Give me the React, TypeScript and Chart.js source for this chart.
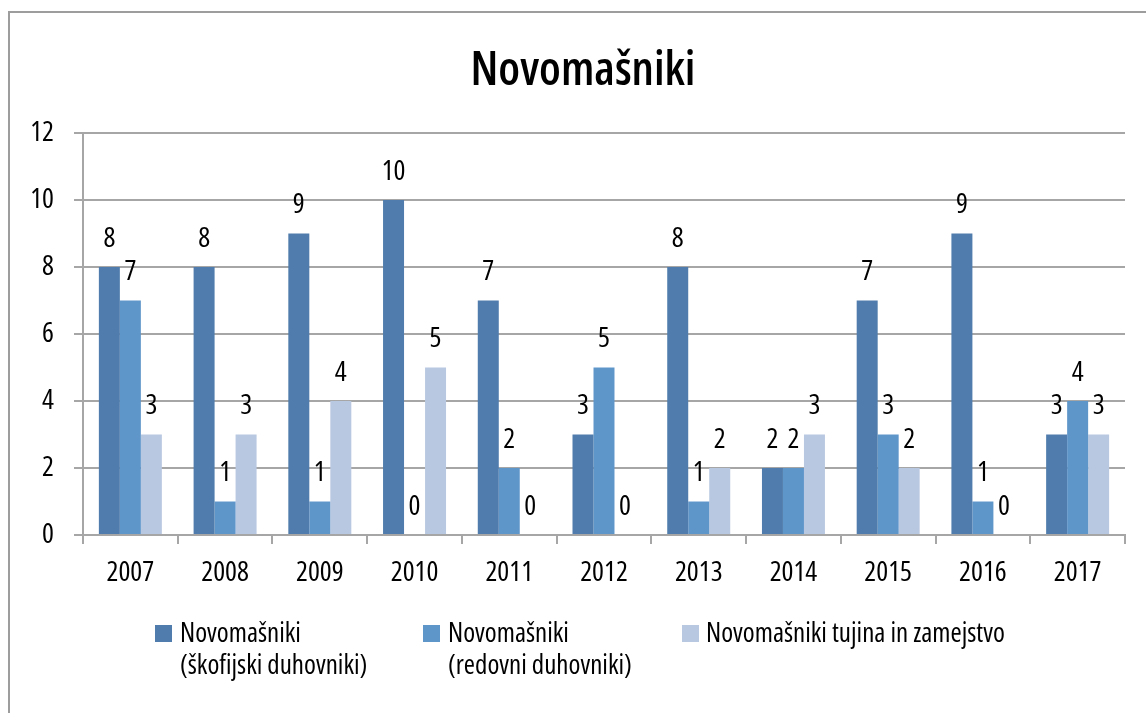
import React, { useEffect, useRef } from "react";
import { Chart, registerables } from "chart.js";

Chart.register(...registerables);

const years = ["2007", "2008", "2009", "2010", "2011", "2012", "2013", "2014", "2015", "2016", "2017"];
const skofijski = [8, 8, 9, 10, 7, 3, 8, 2, 7, 9, 3];
const redovni = [7, 1, 1, 0, 2, 5, 1, 2, 3, 1, 4];
const tujina = [3, 3, 4, 5, 0, 0, 2, 3, 2, 0, 3];
const seriesLabels = [
  ["Novomašniki", "(škofijski duhovniki)"],
  ["Novomašniki", "(redovni duhovniki)"],
  ["Novomašniki tujina in zamejstvo"],
];
const titleText = "Novomašniki";
const yMin = 0;
const yMax = 12;
const yStep = 2;

const FAMILY = "'Open Sans', 'DejaVu Sans Condensed', sans-serif";
const LABEL_FONT = `normal condensed 28px ${FAMILY}`;
const LEGEND_FONT = `normal condensed 27px ${FAMILY}`;
const TITLE_FONT = `normal 600 condensed 47px ${FAMILY}`;
const COLORS = ["#4f7cac", "#5f96ca", "#b9c8e1"];
const GRID = "#a6a6a6";

const decorPlugin = {
  id: "decor",
  beforeDraw(chart: any) {
    const ctx = chart.ctx;
    ctx.save();
    ctx.strokeStyle = "#9d9d9d";
    ctx.lineWidth = 2;
    ctx.beginPath();
    ctx.moveTo(9, 713);
    ctx.lineTo(9, 12);
    ctx.lineTo(1146, 12);
    ctx.stroke();
    ctx.restore();
  },
  afterDraw(chart: any) {
    const ctx = chart.ctx;
    ctx.save();
    // title
    ctx.fillStyle = "#000";
    ctx.font = TITLE_FONT;
    ctx.textAlign = "center";
    ctx.textBaseline = "alphabetic";
    ctx.fillText(titleText, 583, 85);

    // value labels
    ctx.font = LABEL_FONT;
    ctx.textBaseline = "middle";
    chart.data.datasets.forEach((ds: any, i: number) => {
      const meta = chart.getDatasetMeta(i);
      meta.data.forEach((bar: any, j: number) => {
        ctx.fillText(String(ds.data[j]), bar.x, bar.y - 28);
      });
    });

    // legend
    const items = [
      { bx: 155, tx: 180 },
      { bx: 423, tx: 448 },
      { bx: 682, tx: 706 },
    ];
    ctx.font = LEGEND_FONT;
    ctx.textAlign = "left";
    ctx.textBaseline = "alphabetic";
    items.forEach((it, i) => {
      ctx.fillStyle = COLORS[i];
      ctx.fillRect(it.bx, 625, 17, 17);
      ctx.fillStyle = "#000";
      seriesLabels[i].forEach((line, k) => {
        ctx.fillText(line, it.tx, 642 + k * 32);
      });
    });
    ctx.restore();
  },
};

export default function App() {
  const ref = useRef<HTMLCanvasElement>(null);
  useEffect(() => {
    if (!ref.current) return;
    const names = seriesLabels.map((l) => l.join(" "));
    const tickFont = { family: FAMILY, size: 28, weight: "condensed" as any };
    const chart = new Chart(ref.current, {
      type: "bar",
      data: {
        labels: years,
        datasets: [
          { label: names[0], data: skofijski, backgroundColor: COLORS[0] },
          { label: names[1], data: redovni, backgroundColor: COLORS[1] },
          { label: names[2], data: tujina, backgroundColor: COLORS[2] },
        ],
      },
      options: {
        responsive: false,
        animation: false,
        layout: { padding: { left: 8, right: 21, top: 133, bottom: 128 } },
        datasets: { bar: { categoryPercentage: 0.665, barPercentage: 1, borderWidth: 0 } },
        plugins: { legend: { display: false }, title: { display: false }, tooltip: { enabled: false } },
        scales: {
          x: {
            offset: true,
            grid: { offset: true, drawOnChartArea: false, drawTicks: true, tickLength: 9, color: GRID, lineWidth: 2 },
            border: { color: GRID, width: 2 },
            ticks: { color: "#000", font: tickFont, padding: 12 },
            afterFit: (s: any) => { s.height = 50; },
          },
          y: {
            min: yMin,
            max: yMax,
            ticks: { stepSize: yStep, color: "#000", font: tickFont, padding: 20 },
            grid: { color: GRID, lineWidth: 2, tickLength: 9 },
            border: { color: GRID, width: 2 },
            afterFit: (s: any) => { s.width = 75; },
          },
        },
      },
      plugins: [decorPlugin],
    });
    return () => chart.destroy();
  }, []);
  return (
    <div style={{ position: "absolute", left: 0, top: 0, width: 1146, height: 713, background: "#fff" }}>
      <canvas ref={ref} width={1146} height={713} />
    </div>
  );
}
